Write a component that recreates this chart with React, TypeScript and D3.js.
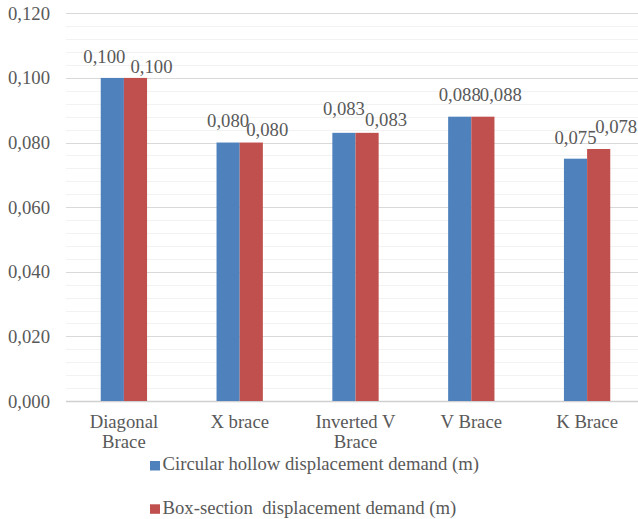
import React from 'react';
import * as d3 from 'd3';

const categories = [['Diagonal', 'Brace'], ['X brace'], ['Inverted V', 'Brace'], ['V Brace'], ['K Brace']];
const circularValues = [0.1, 0.08, 0.083, 0.088, 0.075];
const boxValues = [0.1, 0.08, 0.083, 0.088, 0.078];
const seriesNames = ['Circular hollow displacement demand (m)', 'Box-section  displacement demand (m)'];
const yTicks = [0, 0.02, 0.04, 0.06, 0.08, 0.1, 0.12];

// per-category label nudges [blueDx, blueDy, redDx, redDy] (excel overlap avoidance)
const labelNudge = [
  [-8, -10, 16, 0],
  [0, -11, 16, -1.5],
  [0, -13, 19, -1.5],
  [0, -10.5, 18, -10.5],
  [0, -10, 17.5, -10.5],
];

const W = 638;
const H = 519;
const TEXT = '#595959';
const BLUE = '#4F81BD';
const RED = '#C0504D';
const textStyle: React.CSSProperties = { fontFamily: "'Liberation Serif'", fontSize: '18.7px' };

const left = 66;
const right = 645;
const top = 13.3;
const bottom = 401;

const keys = categories.map((c) => c.join(' '));
const x = d3.scaleBand().domain(keys).range([left, right]).paddingInner(0.6).paddingOuter(0.3);
const xs = d3.scaleBand().domain(['a', 'b']).range([0, x.bandwidth()]);
const y = d3.scaleLinear().domain([0, 0.12]).range([bottom, top]);
const fmt = d3.formatLocale({ decimal: ',', thousands: '.', grouping: [3], currency: ['', ''] }).format('.3f');
const minorTicks = d3.range(0, 0.1200001, 0.004).filter((v) => !yTicks.some((t) => Math.abs(t - v) < 1e-6));
const series = [
  { key: 'a', values: circularValues, color: BLUE },
  { key: 'b', values: boxValues, color: RED },
];

const py = (v: number) => Math.round(y(v)) + 0.5;

export default function App() {
  return (
    <svg width={W} height={H} style={{ position: 'absolute', left: 0, top: 0, background: '#fff' }}>
      {/* minor grid */}
      {minorTicks.map((t) => (
        <line key={`m${t}`} x1={left} x2={W} y1={py(t)} y2={py(t)} stroke="#f2f2f2" strokeWidth={1} />
      ))}
      {/* major grid */}
      {yTicks.map((t) => (
        <line
          key={`g${t}`}
          x1={left}
          x2={W}
          y1={py(t)}
          y2={py(t)}
          stroke={t === 0 ? '#d0d0d0' : '#d9d9d9'}
          strokeWidth={t === 0 ? 1.5 : 1}
        />
      ))}
      {/* y tick labels */}
      {yTicks.map((t) => (
        <text key={`t${t}`} x={50} y={y(t)} dy="0.35em" textAnchor="end" fill={TEXT} style={textStyle}>
          {fmt(t)}
        </text>
      ))}
      {/* bars */}
      {series.map((s) =>
        s.values.map((v, i) => (
          <rect
            key={`${s.key}${i}`}
            x={(x(keys[i]) || 0) + (xs(s.key) || 0)}
            y={y(v)}
            width={xs.bandwidth()}
            height={bottom - y(v)}
            fill={s.color}
          />
        ))
      )}
      {/* value labels */}
      {series.map((s, si) =>
        s.values.map((v, i) => (
          <text
            key={`l${s.key}${i}`}
            x={(x(keys[i]) || 0) + (xs(s.key) || 0) + xs.bandwidth() / 2 + labelNudge[i][si * 2]}
            y={y(v) - 5 + labelNudge[i][si * 2 + 1]}
            textAnchor="middle"
            fill={TEXT}
            style={textStyle}
          >
            {fmt(v)}
          </text>
        ))
      )}
      {/* category labels */}
      {categories.map((c, i) => {
        const cx = (x(keys[i]) || 0) + x.bandwidth() / 2;
        return (
          <text key={`c${i}`} x={cx} y={428.3} textAnchor="middle" fill={TEXT} style={textStyle}>
            {c.map((line, li) => (
              <tspan key={li} x={cx} dy={li === 0 ? 0 : 20}>
                {line}
              </tspan>
            ))}
          </text>
        );
      })}
      {/* legend */}
      {seriesNames.map((name, i) => (
        <g key={name} transform={`translate(150,${461 + i * 43.3})`}>
          <rect width={10} height={9.5} fill={series[i].color} />
          <text x={12.5} y={9.2} fill={TEXT} style={textStyle} xmlSpace="preserve">
            {name}
          </text>
        </g>
      ))}
    </svg>
  );
}
